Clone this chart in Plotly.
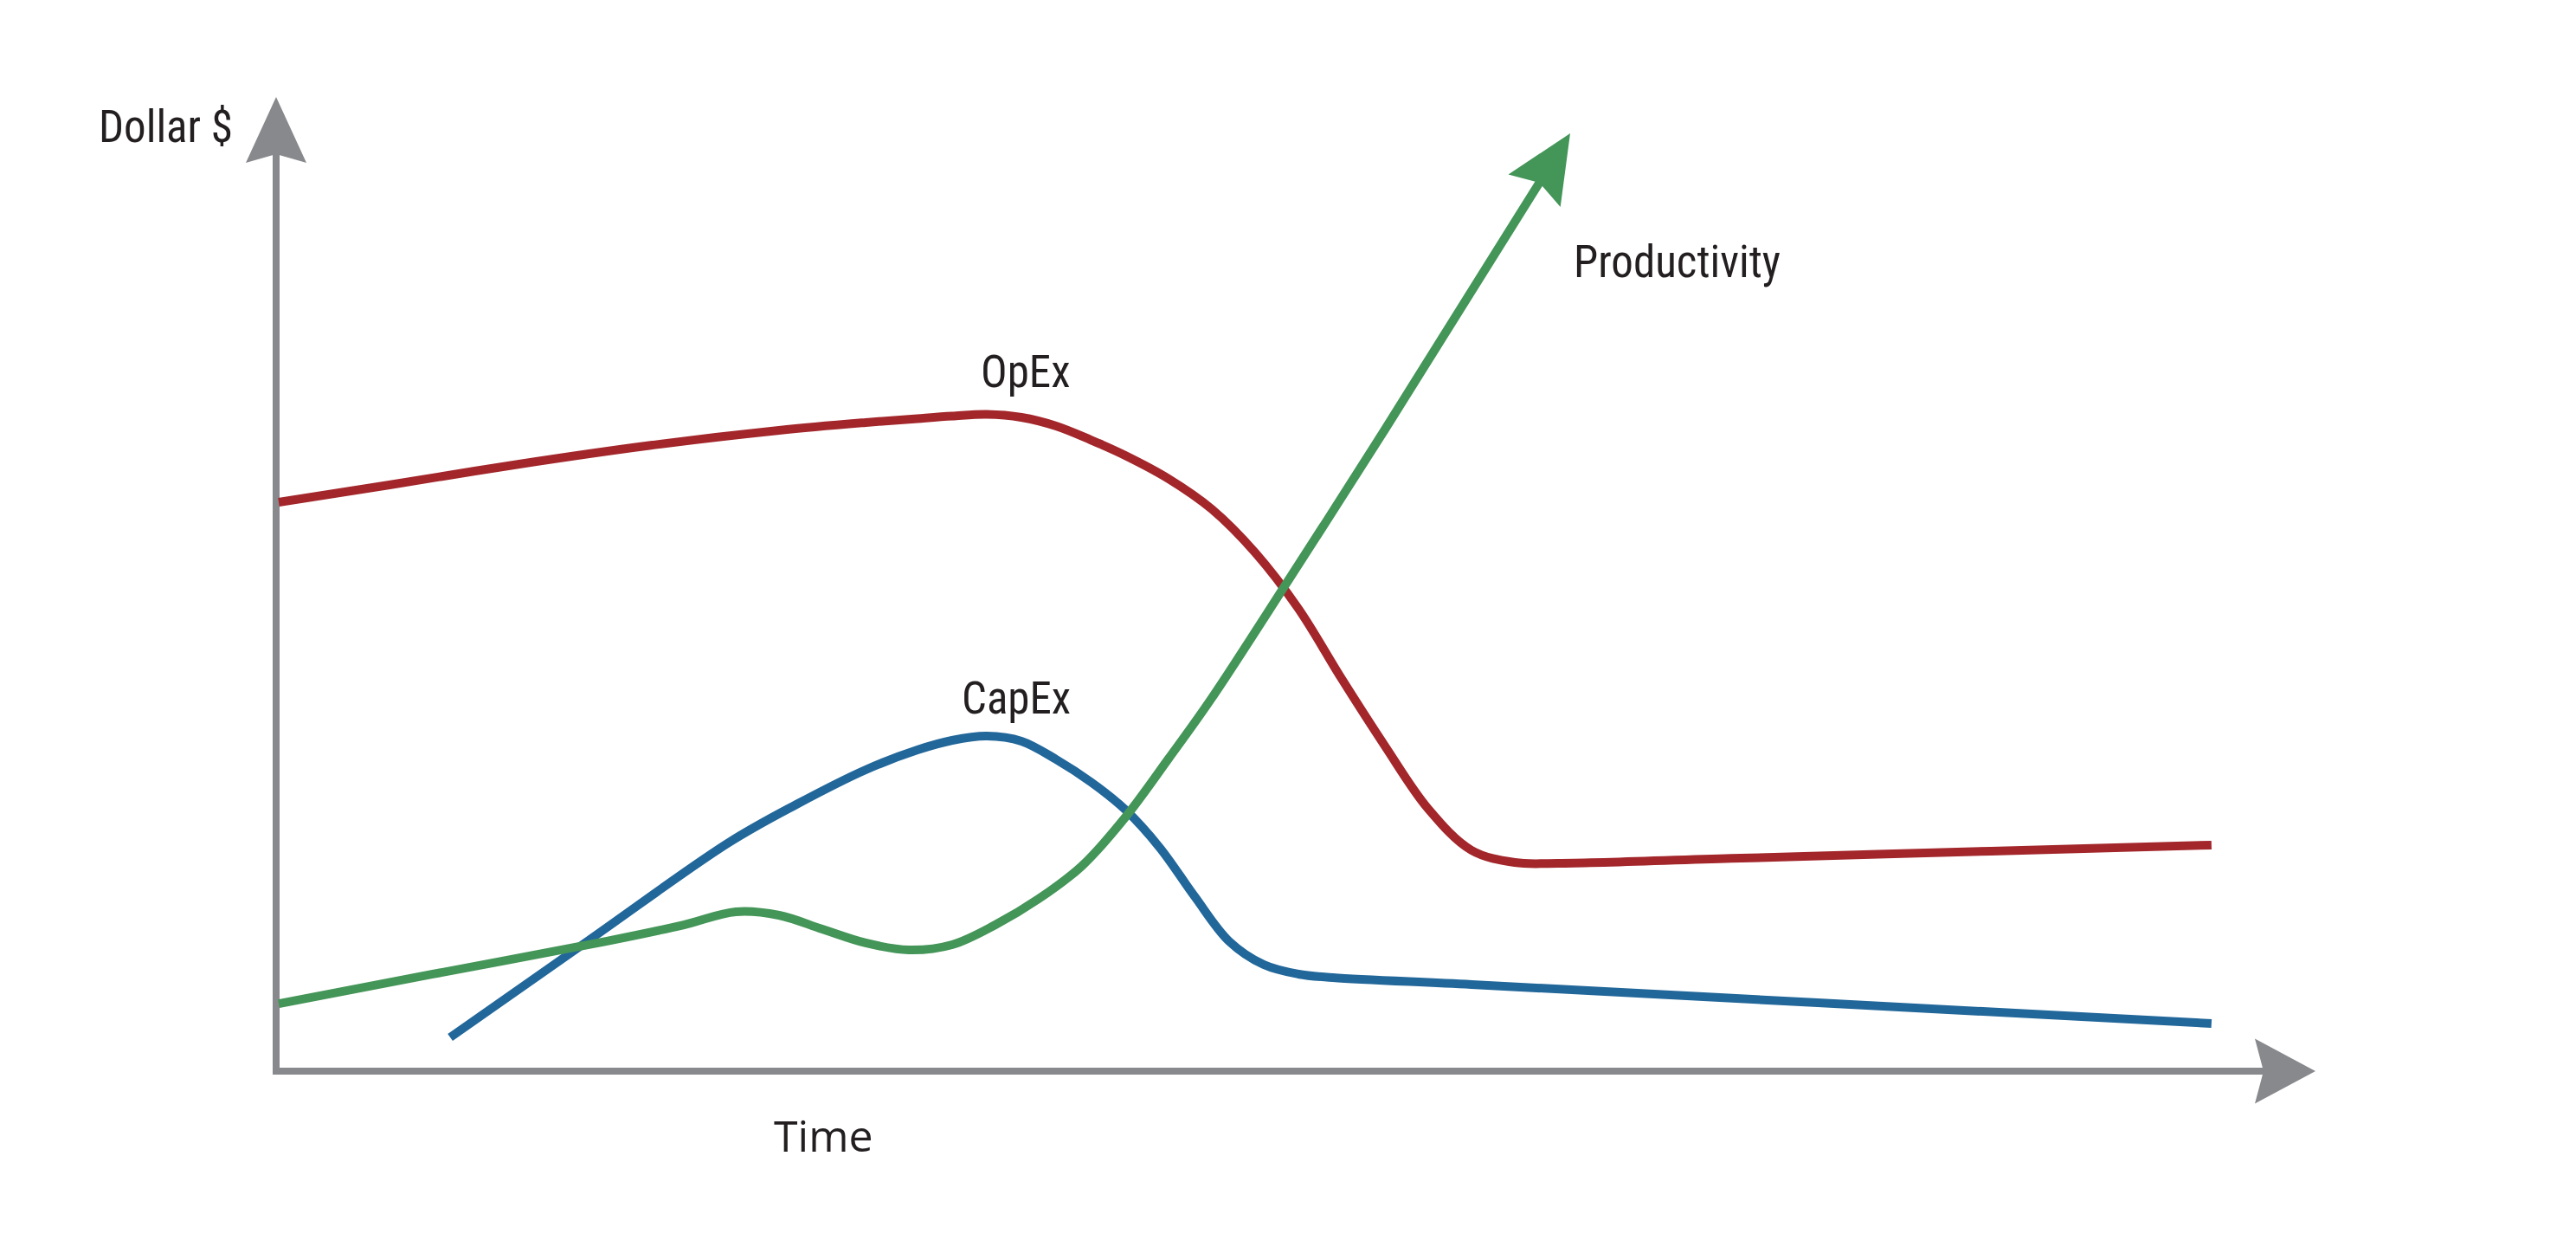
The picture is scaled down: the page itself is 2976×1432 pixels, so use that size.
import plotly.graph_objects as go
import math

# ---------------- data (Time 0-100, Dollar 0-100) ----------------
opex_x = [0.13, 5.69, 12.21, 18.73, 25.25, 29.60, 32.20, 33.94, 35.68, 37.42, 39.16, 40.90,
          42.63, 44.81, 46.98, 49.15, 51.33, 53.50, 55.67, 57.84, 60.02, 62.19, 64.36, 73.06,
          86.09, 97.17]
opex_y = [61.86, 63.75, 66.01, 68.03, 69.68, 70.53, 70.96, 71.23, 71.42, 71.09, 70.15, 68.64,
          66.95, 64.41, 61.11, 56.40, 50.28, 42.66, 35.36, 28.53, 24.01, 22.69, 22.60, 23.13,
          23.92, 24.58]

capex_x = [8.74, 15.69, 22.73, 26.12, 29.60, 32.20, 33.94, 35.68, 37.42, 39.16, 40.90, 42.63,
           44.37, 46.11, 47.85, 49.59, 51.33, 53.06, 60.02, 77.40, 97.17]
capex_y = [3.67, 14.22, 24.86, 29.00, 32.77, 34.93, 35.97, 36.44, 35.88, 33.90, 31.45, 28.44,
           24.29, 19.02, 14.12, 11.58, 10.55, 10.17, 9.42, 7.44, 5.18]

prod_x = [0.13, 7.87, 16.56, 20.47, 23.08, 25.25, 27.42, 29.60, 31.77, 33.94, 36.11, 38.29,
          40.46, 42.63, 44.81, 46.98, 51.33, 55.67, 63.45]
prod_y = [7.34, 10.55, 14.12, 15.91, 17.33, 16.95, 15.44, 13.94, 13.18, 13.75, 15.91, 18.74,
          22.32, 27.59, 33.99, 40.58, 55.08, 69.77, 96.70]

series_names = ["OpEx", "CapEx", "Productivity"]
axis_titles = ["Time", "Dollar $"]

# ---------------- styling ----------------
W, H = 2976, 1432
ML, MR, MT, MB = 315, 356, 175, 191
X_RANGE = [-0.1738, 100]
Y_RANGE = [-0.3766, 100]
PX_X = (W - ML - MR) / (X_RANGE[1] - X_RANGE[0])
PX_Y = (H - MT - MB) / (Y_RANGE[1] - Y_RANGE[0])


def xp(v):  # data x -> paper fraction
    return (v - X_RANGE[0]) / (X_RANGE[1] - X_RANGE[0])


def yp(v):  # data y -> paper fraction
    return (v - Y_RANGE[0]) / (Y_RANGE[1] - Y_RANGE[0])


RED = "#a3262b"
BLUE = "#22679a"
GREEN = "#449558"
GRAY = "#88898d"
TEXT = "#231f20"
LW = 10
COND = "Roboto Condensed, Liberation Sans Narrow, DejaVu Sans Condensed, Roboto, sans-serif"

fig = go.Figure()
for xs, ys, col, name in [(opex_x, opex_y, RED, series_names[0]),
                          (capex_x, capex_y, BLUE, series_names[1]),
                          (prod_x, prod_y, GREEN, series_names[2])]:
    fig.add_trace(go.Scatter(x=xs, y=ys, mode="lines", name=name,
                             line=dict(color=col, width=LW, shape="spline", smoothing=1.0),
                             hoverinfo="skip", showlegend=False))


def arrow_path(dx, dy, tip, back, notch, half):
    n = math.hypot(dx, dy)
    dx, dy = dx / n, dy / n
    pts = [(dx * tip, dy * tip),
           (dx * back - dy * half, dy * back + dx * half),
           (dx * notch, dy * notch),
           (dx * back + dy * half, dy * back - dx * half)]
    return "M" + " L".join(f"{px:.2f},{py:.2f}" for px, py in pts) + " Z"


def arrow_shape(xa, ya, dx, dy, tip, back, notch, half, color):
    return dict(type="path", xref="paper", yref="paper", xsizemode="pixel", ysizemode="pixel",
                xanchor=xp(xa), yanchor=yp(ya), path=arrow_path(dx, dy, tip, back, notch, half),
                fillcolor=color, line=dict(width=0), layer="above")


gdx = (prod_x[-1] - prod_x[-2]) * PX_X
gdy = (prod_y[-1] - prod_y[-2]) * PX_Y
shapes = [
    arrow_shape(0, Y_RANGE[1], 0, 1, 63, -13, -3, 35, GRAY),
    arrow_shape(X_RANGE[1], 0, 1, 0, 55, -15, -5, 37.5, GRAY),
    arrow_shape(prod_x[-1], prod_y[-1], gdx, gdy, 66, -12, -1, 35.5, GREEN),
]

annotations = [
    dict(text=series_names[0], x=xp(37.64), y=yp(75.99), font=dict(family=COND, size=51, color=TEXT)),
    dict(text=series_names[1], x=xp(37.16), y=yp(40.58), font=dict(family=COND, size=51, color=TEXT)),
    dict(text=series_names[2], x=xp(70.32), y=yp(87.95), font=dict(family=COND, size=51, color=TEXT)),
    dict(text=axis_titles[1], x=xp(-5.56), y=yp(102.64), font=dict(family=COND, size=51, color=TEXT)),
    dict(text=axis_titles[0], x=xp(27.47), y=yp(-6.97),
         font=dict(family="Open Sans, Roboto, sans-serif", size=50, color=TEXT)),
]
for a in annotations:
    a.update(xref="paper", yref="paper", showarrow=False, xanchor="center", yanchor="middle")

axis_common = dict(showgrid=False, showticklabels=False, ticks="", showline=False,
                   zeroline=True, zerolinecolor=GRAY, zerolinewidth=8, fixedrange=True)
fig.update_layout(
    width=W, height=H,
    margin=dict(l=ML, r=MR, t=MT, b=MB, pad=0),
    paper_bgcolor="white", plot_bgcolor="white",
    xaxis=dict(range=X_RANGE, **axis_common),
    yaxis=dict(range=Y_RANGE, **axis_common),
    shapes=shapes, annotations=annotations,
    showlegend=False, hovermode=False,
)

fig.write_html("out.html", config={"displayModeBar": False})
